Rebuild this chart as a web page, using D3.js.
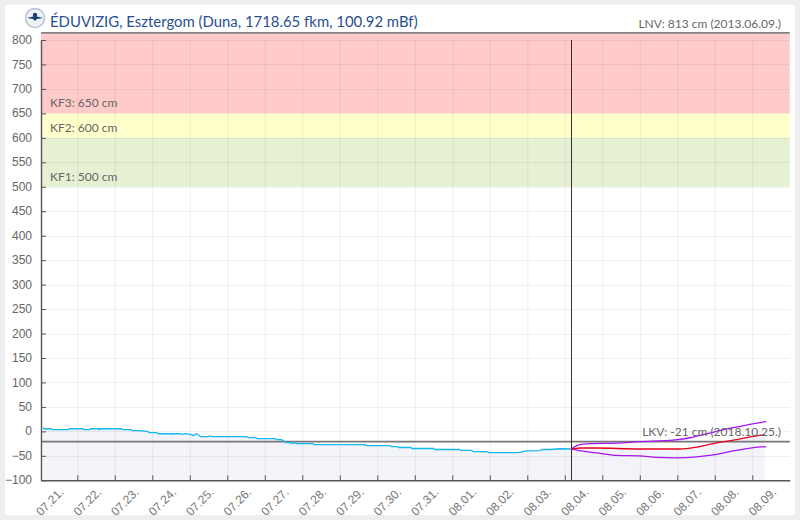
<!DOCTYPE html>
<html>
<head>
<meta charset="utf-8">
<script src="https://d3js.org/d3.v7.min.js"></script>
<style>
  html, body { margin: 0; padding: 0; background: #eeeeee; }
  svg { display: block; }
</style>
</head>
<body>
<div id="chart"></div>
<script>
// day labels, one for each day interval on the x axis
var dayLabels = ["07.21.", "07.22.", "07.23.", "07.24.", "07.25.", "07.26.", "07.27.", "07.28.", "07.29.", "07.30.",
                 "07.31.", "08.01.", "08.02.", "08.03.", "08.04.", "08.05.", "08.06.", "08.07.", "08.08.", "08.09."];
var yTicks = [-100, -50, 0, 50, 100, 150, 200, 250, 300, 350, 400, 450, 500, 550, 600, 650, 700, 750, 800];

// measured water level: days since 07.21. 00:00, and cm
var obsDays = [0.09, 0.11, 0.29, 0.33, 0.76, 0.79, 1.14, 1.18, 1.32, 1.35, 1.56, 1.59, 1.61, 2.18, 2.21, 2.43, 2.47, 2.67,
               2.89, 2.92, 3.12, 3.16, 3.47, 3.50, 3.52, 3.74, 3.78, 3.88, 4.05, 4.09, 4.18, 4.29, 4.49, 4.54, 4.58,
               5.52, 5.56, 5.76, 5.80, 6.27, 6.32, 6.45, 6.57, 6.68, 6.74, 6.80, 6.85, 7.28, 7.31, 8.67, 8.70, 9.34,
               9.38, 9.54, 9.57, 9.89, 9.93, 10.50, 10.53, 11.19, 11.22, 11.52, 11.56, 11.93, 11.97, 12.76, 12.98,
               13.34, 13.39, 13.61, 13.87, 14.17];
var obsValues = [7.5, 5.4, 5.4, 3.4, 3.4, 5.4, 5.4, 3.4, 3.4, 5.4, 5.4, 3.4, 5.4, 5.4, 3.4, 3.4, 1.4, 1.4,
                 -0.7, -2.7, -2.7, -4.8, -4.8, -6.1, -4.8, -4.8, -6.1, -4.8, -6.8, -8.8, -4.8, -10.9, -10.9, -8.8, -10.9,
                 -10.9, -12.9, -12.9, -15, -15, -17, -17, -23, -23, -25, -23, -25, -25, -27, -27, -29, -29,
                 -31, -31, -33, -33, -35, -35, -37, -37, -39, -39, -41.5, -41.5, -43.5, -43.5, -40,
                 -39.5, -37, -37, -35.5, -36];

// forecast and its upper / lower bounds
var foreDays = [14.17, 14.27, 14.40, 14.85, 15.99, 17.07, 17.52, 17.96, 18.49, 19.03, 19.34];
var foreValues = [-36, -35, -34, -34, -36, -36, -32, -25, -18, -10, -7];
var upperDays = [14.17, 14.27, 14.36, 14.50, 14.67, 15.38, 15.99, 16.89, 17.34, 17.78, 18.32, 18.85, 19.37];
var upperValues = [-36, -31, -28, -26, -25, -24, -21, -18, -13, -5, 5, 13, 20];
var lowerDays = [14.17, 14.31, 14.45, 14.85, 15.38, 15.99, 16.45, 16.98, 17.52, 17.96, 18.49, 19.03, 19.37];
var lowerValues = [-36, -38, -40, -44, -49, -50, -53, -54, -52, -48, -40, -33, -31];

// alert levels
var bandFrom = [650, 600, 500];
var bandTo = [813, 650, 600];
var bandColors = ["#ffcaca", "#ffffcc", "#e6f1d4"];
var bandLabels = ["KF3: 650 cm", "KF2: 600 cm", "KF1: 500 cm"];
var lnvValue = 813;
var lkvValue = -21;
var nowDay = 14.17;

var width = 800, height = 520;
var uiFont = "Lato, sans-serif";
var tickFont = "'Liberation Sans', Arial, sans-serif";

var svg = d3.select("#chart").append("svg").attr("width", width).attr("height", height);

svg.append("rect").attr("x", 5).attr("y", 5).attr("width", 790).attr("height", 510).attr("fill", "white");

var x = d3.scaleLinear().domain([0.032, 20]).range([41, 789.8]);
var y = d3.scaleLinear().domain([-100, 800]).range([480.3, 40]);

// coloured alert bands
svg.selectAll("rect.band")
   .data(bandFrom)
   .enter()
   .append("rect")
   .attr("class", "band")
   .attr("x", x(0.032))
   .attr("y", function(d, i) { return y(bandTo[i]); })
   .attr("width", x(20) - x(0.032))
   .attr("height", function(d, i) { return y(d) - y(bandTo[i]); })
   .attr("fill", function(d, i) { return bandColors[i]; });

// area under the levels
var obsPoints = obsDays.map(function(d, i) { return [d, obsValues[i]]; });
var forePoints = foreDays.map(function(d, i) { return [d, foreValues[i]]; });
var upperPoints = upperDays.map(function(d, i) { return [d, upperValues[i]]; });
var lowerPoints = lowerDays.map(function(d, i) { return [d, lowerValues[i]]; });

var area = d3.area()
             .x(function(d) { return x(d[0]); })
             .y0(y(-100))
             .y1(function(d) { return y(d[1]); });
svg.append("path").datum(obsPoints.concat(forePoints)).attr("d", area).attr("fill", "#f3f4f9");

// grid
var dayTicks = d3.range(1, 20);
svg.selectAll("line.gridx")
   .data(dayTicks)
   .enter()
   .append("line")
   .attr("x1", function(d) { return x(d) + 0.5; })
   .attr("x2", function(d) { return x(d) + 0.5; })
   .attr("y1", y(800))
   .attr("y2", y(-100))
   .attr("stroke", "#000")
   .attr("stroke-opacity", 0.06);
svg.selectAll("line.gridy")
   .data(yTicks.slice(1))
   .enter()
   .append("line")
   .attr("x1", x(0.032))
   .attr("x2", x(20))
   .attr("y1", function(d) { return Math.round(y(d)) + 0.5; })
   .attr("y2", function(d) { return Math.round(y(d)) + 0.5; })
   .attr("stroke", "#000")
   .attr("stroke-opacity", 0.06);

// band labels
svg.selectAll("text.band")
   .data(bandFrom)
   .enter()
   .append("text")
   .attr("class", "band")
   .attr("x", 50)
   .attr("y", function(d) { return y(d) - 6; })
   .attr("font-family", uiFont)
   .attr("font-size", "12px")
   .attr("fill", "#666")
   .text(function(d, i) { return bandLabels[i]; });

// LNV and LKV reference lines
svg.append("line").attr("x1", 41).attr("x2", x(20)).attr("y1", y(lnvValue) - 0.7).attr("y2", y(lnvValue) - 0.7)
   .attr("stroke", "#808080").attr("stroke-width", 1.8);
svg.append("line").attr("x1", 41).attr("x2", x(20)).attr("y1", y(lkvValue)).attr("y2", y(lkvValue))
   .attr("stroke", "#777").attr("stroke-width", 1.8);

// current time marker, snapped to a whole pixel so it stays thin
svg.append("line")
   .attr("x1", Math.round(x(nowDay)) + 0.5)
   .attr("x2", Math.round(x(nowDay)) + 0.5)
   .attr("y1", y(800))
   .attr("y2", y(-100))
   .attr("stroke", "#333")
   .attr("stroke-width", 1);

// series
var straight = d3.line()
                 .x(function(d) { return x(d[0]); })
                 .y(function(d) { return y(d[1]); });
var smooth = d3.line()
               .x(function(d) { return x(d[0]); })
               .y(function(d) { return y(d[1]); })
               .curve(d3.curveMonotoneX);

svg.append("path").attr("d", straight(obsPoints)).attr("fill", "none").attr("stroke", "#12b8f0").attr("stroke-width", 1.3);
svg.append("path").attr("d", smooth(upperPoints)).attr("fill", "none").attr("stroke", "#a812f5").attr("stroke-width", 1.3);
svg.append("path").attr("d", smooth(lowerPoints)).attr("fill", "none").attr("stroke", "#a812f5").attr("stroke-width", 1.3);
svg.append("path").attr("d", smooth(forePoints)).attr("fill", "none").attr("stroke", "#e8001c").attr("stroke-width", 1.3);

// axes
var yAxis = d3.axisLeft(y).tickValues(yTicks).tickSize(-5).tickSizeOuter(0).tickPadding(9).tickFormat(d3.format("d"));
var yG = svg.append("g").attr("transform", "translate(41,0)").call(yAxis);
var xAxis = d3.axisBottom(x).tickValues(dayTicks).tickSize(-5).tickSizeOuter(0).tickFormat("");
var xG = svg.append("g").attr("transform", "translate(0," + y(-100) + ")").call(xAxis);

[yG, xG].forEach(function(g) {
  g.select(".domain").attr("stroke", "#555").attr("stroke-width", 1.4);
  g.selectAll(".tick line").attr("stroke", "#555").attr("stroke-width", 1);
});
yG.selectAll(".tick text")
  .attr("font-family", tickFont)
  .attr("font-size", "12px")
  .attr("fill", "#666")
  .attr("dy", "0.3em");

svg.selectAll("text.day")
   .data(dayLabels)
   .enter()
   .append("text")
   .attr("class", "day")
   .attr("text-anchor", "end")
   .attr("transform", function(d, i) { return "translate(" + (x(i + 0.5) + 6) + ",493) rotate(-45)"; })
   .attr("font-family", tickFont)
   .attr("font-size", "12px")
   .attr("fill", "#777")
   .text(function(d) { return d; });

// header
svg.append("text").attr("x", 50).attr("y", 27)
   .attr("font-family", uiFont).attr("font-size", "14.9px").attr("fill", "#2a4f8f")
   .text("ÉDUVIZIG, Esztergom (Duna, 1718.65 fkm, 100.92 mBf)");
svg.append("text").attr("x", 781).attr("y", 28).attr("text-anchor", "end")
   .attr("font-family", uiFont).attr("font-size", "12px").attr("fill", "#666")
   .text("LNV: 813 cm (2013.06.09.)");
svg.append("text").attr("x", 781).attr("y", 436).attr("text-anchor", "end")
   .attr("font-family", uiFont).attr("font-size", "12px").attr("fill", "#666")
   .text("LKV: -21 cm (2018.10.25.)");

// logo
var logo = svg.append("g").attr("transform", "translate(35,18)");
logo.append("circle").attr("r", 9.5).attr("fill", "#eef1f5").attr("stroke", "#b4c0d0").attr("stroke-width", 1.4);
logo.append("path").attr("d", "M-8,0 L0,-2 L8,0 L2,1 L0,3 L-2,1 Z").attr("fill", "#1d3f78");
logo.append("circle").attr("cy", -3).attr("r", 2.2).attr("fill", "#1d3f78");
</script>
</body>
</html>
